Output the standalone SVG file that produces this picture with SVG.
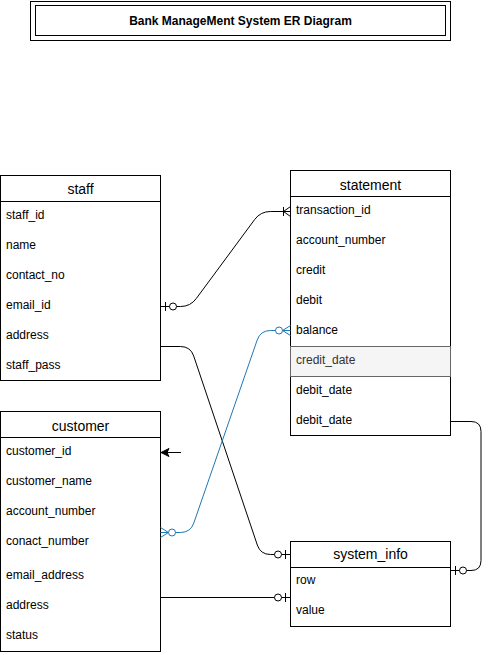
<svg xmlns="http://www.w3.org/2000/svg" width="490" height="655" viewBox="0 0 490 655">
<style>
.box{fill:#fff;stroke:#000;stroke-width:1}
.sep{stroke:#000;stroke-width:1}
.hdr{font-family:"Liberation Sans",Arial,sans-serif;font-size:14px;fill:#000;text-anchor:middle}
.row{font-family:"Liberation Sans",Arial,sans-serif;font-size:12px;fill:#000}
.title{font-family:"Liberation Sans",Arial,sans-serif;font-size:12px;font-weight:bold;fill:#000;text-anchor:middle}
.edge{fill:none;stroke:#000;stroke-width:1}
.blue{fill:none;stroke:#1f77b4;stroke-width:1}
</style>
<defs>
<marker id="zeroOne" markerUnits="userSpaceOnUse" viewBox="-20 -7 21 14" refX="0" refY="0" markerWidth="21" markerHeight="14" orient="auto-start-reverse">
<path d="M-5,-4.5 L-5,4.5" stroke="#000" stroke-width="1" fill="none"/>
<circle cx="-12.5" cy="0" r="3.5" fill="#fff" stroke="#000" stroke-width="1"/>
</marker>
<marker id="oneMany" markerUnits="userSpaceOnUse" viewBox="-20 -7 21 14" refX="0" refY="0" markerWidth="21" markerHeight="14" orient="auto-start-reverse">
<path d="M-7,-4.5 L-7,4.5 M0,-5 L-7,0 L0,5" stroke="#000" stroke-width="1" fill="none"/>
</marker>
<marker id="zeroManyBlue" markerUnits="userSpaceOnUse" viewBox="-20 -7 21 14" refX="0" refY="0" markerWidth="21" markerHeight="14" orient="auto-start-reverse">
<path d="M0,-5 L-8,0 L0,5" stroke="#1f77b4" stroke-width="1" fill="none"/>
<circle cx="-11.5" cy="0" r="3.5" fill="#fff" stroke="#1f77b4" stroke-width="1"/>
</marker>
<marker id="arrow" markerUnits="userSpaceOnUse" viewBox="-10 -5 11 10" refX="0" refY="0" markerWidth="11" markerHeight="10" orient="auto">
<path d="M0,0 L-8,-4 L-6,0 L-8,4 Z" fill="#000" stroke="#000" stroke-width="1"/>
</marker>
</defs>

<g id="title">
<rect x="30.5" y="1.5" width="420" height="39" fill="#fff" stroke="#000"/>
<rect x="35.5" y="5.5" width="410" height="30" fill="none" stroke="#000"/>
<text class="title" x="240.5" y="24.5">Bank ManageMent System ER Diagram</text>
</g>

<g id="staff">
<rect class="box" x="0.5" y="175.5" width="160" height="205"/>
<line class="sep" x1="0.5" y1="201.5" x2="160.5" y2="201.5"/>
<text class="hdr" x="80.5" y="194">staff</text>
<text class="row" x="6" y="219">staff_id</text>
<text class="row" x="6" y="249">name</text>
<text class="row" x="6" y="279">contact_no</text>
<text class="row" x="6" y="309">email_id</text>
<text class="row" x="6" y="339">address</text>
<text class="row" x="6" y="369">staff_pass</text>
</g>

<g id="statement">
<rect class="box" x="290.5" y="170.5" width="160" height="265"/>
<line class="sep" x1="290.5" y1="196.5" x2="450.5" y2="196.5"/>
<rect x="290.5" y="346.5" width="160" height="30" fill="#f5f5f5" stroke="#666666"/>
<text class="hdr" x="370.5" y="190">statement</text>
<text class="row" x="296" y="214">transaction_id</text>
<text class="row" x="296" y="244">account_number</text>
<text class="row" x="296" y="274">credit</text>
<text class="row" x="296" y="304">debit</text>
<text class="row" x="296" y="334">balance</text>
<text class="row" x="296" y="364" style="fill:#333333">credit_date</text>
<text class="row" x="296" y="394">debit_date</text>
<text class="row" x="296" y="424">debit_date</text>
</g>

<g id="customer">
<rect class="box" x="0.5" y="411.5" width="160" height="240"/>
<line class="sep" x1="0.5" y1="437.5" x2="160.5" y2="437.5"/>
<text class="hdr" x="80.5" y="430.5">customer</text>
<text class="row" x="6" y="455">customer_id</text>
<text class="row" x="6" y="485">customer_name</text>
<text class="row" x="6" y="515">account_number</text>
<text class="row" x="6" y="545">conact_number</text>
<text class="row" x="6" y="579">email_address</text>
<text class="row" x="6" y="609">address</text>
<text class="row" x="6" y="639">status</text>
</g>

<g id="system_info">
<rect class="box" x="290.5" y="541.5" width="160" height="85"/>
<line class="sep" x1="290.5" y1="567.5" x2="450.5" y2="567.5"/>
<text class="hdr" x="370.5" y="559">system_info</text>
<text class="row" x="296" y="584">row</text>
<text class="row" x="296" y="614">value</text>
</g>

<g id="connectors">
<path class="edge" d="M160.5,306.5 L180.5,306.5 Q190.5,306.5 196.4,298.4 L254.6,219.6 Q260.5,211.5 270.5,211.5 L290.5,211.5" marker-start="url(#zeroOne)" marker-end="url(#oneMany)"/>
<path class="edge" d="M160.5,346.5 L180.5,346.5 Q190.5,346.5 193.7,356 L257.3,545 Q260.5,554.5 270.5,554.5 L290.5,554.5" marker-end="url(#zeroOne)"/>
<path class="blue" d="M160.5,532.5 L180.5,532.5 Q190.5,532.5 193.8,523 L257.2,340 Q260.5,330.5 270.5,330.5 L290.5,330.5" marker-start="url(#zeroManyBlue)" marker-end="url(#zeroManyBlue)"/>
<path class="edge" d="M450.5,421.5 L471,421.5 Q481,421.5 481,431.5 L481,560.5 Q481,570.5 471,570.5 L450.5,570.5" marker-end="url(#zeroOne)"/>
<path class="edge" d="M160.5,597.5 L290.5,597.5" marker-end="url(#zeroOne)"/>
<path class="edge" d="M181,452.5 L161,452.5" marker-end="url(#arrow)"/>
</g>
</svg>
